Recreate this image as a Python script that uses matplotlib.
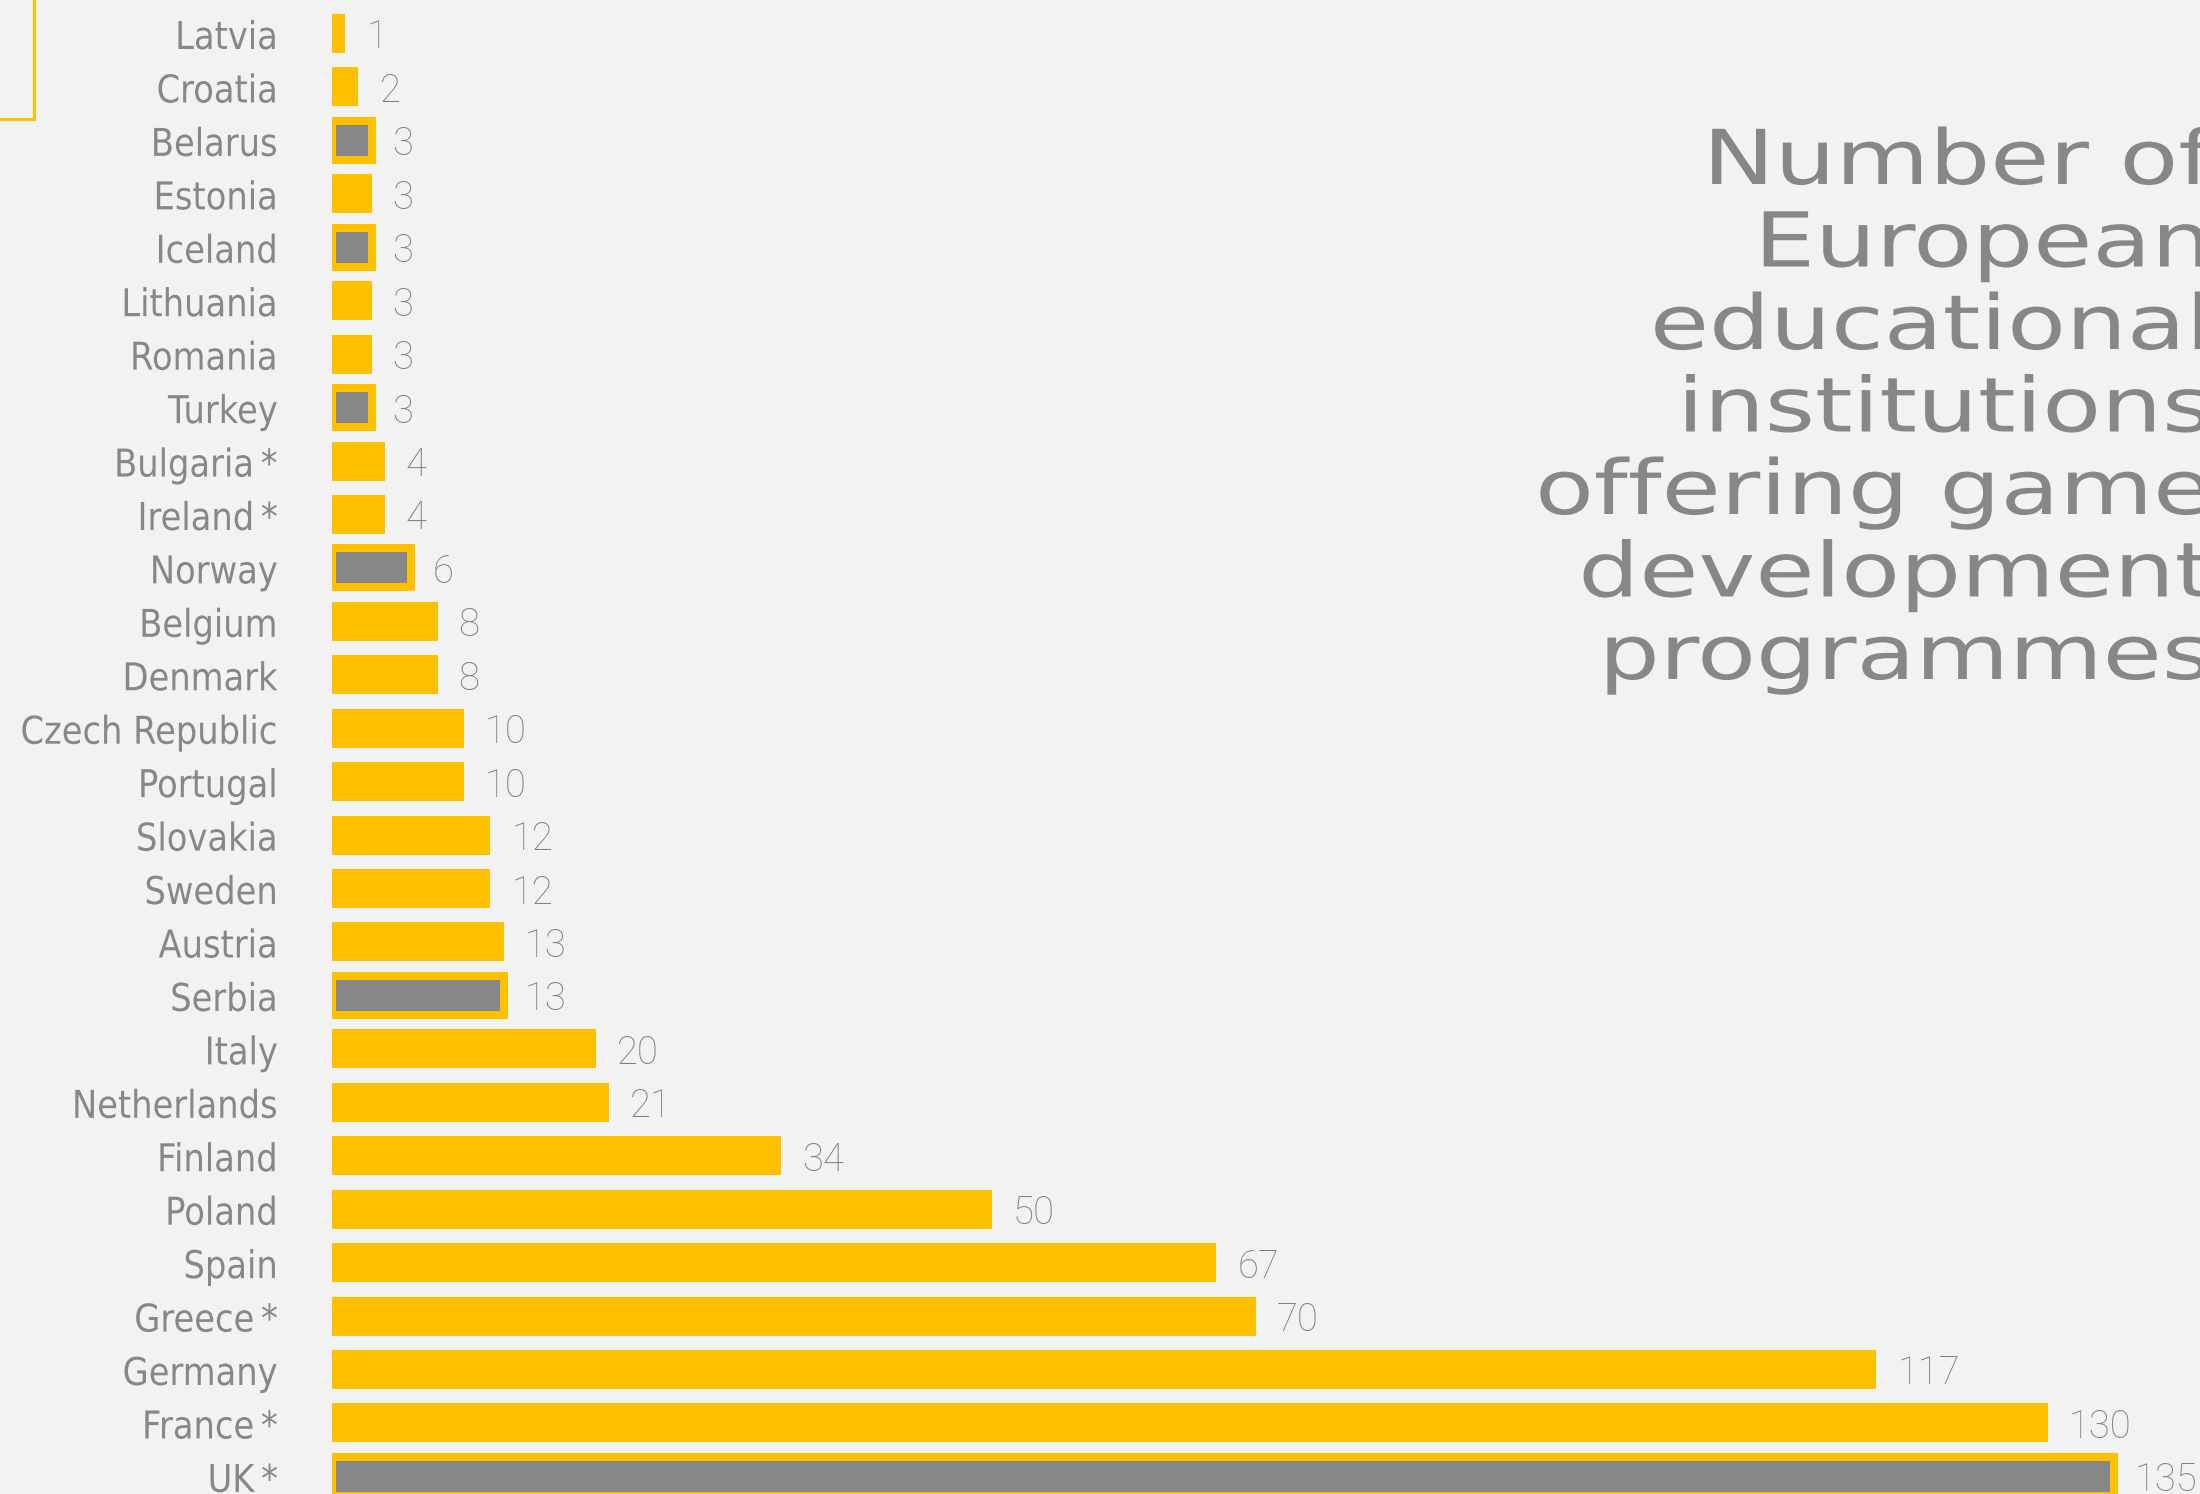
import matplotlib
matplotlib.use("Agg")
import matplotlib.pyplot as plt
from matplotlib import patheffects
from matplotlib.transforms import Affine2D, ScaledTranslation, blended_transform_factory
from matplotlib.lines import Line2D

# Programmes per country, listed top to bottom
countries = ["Latvia", "Croatia", "Belarus", "Estonia", "Iceland", "Lithuania",
             "Romania", "Turkey", "Bulgaria\u2009*", "Ireland\u2009*", "Norway",
             "Belgium", "Denmark", "Czech Republic", "Portugal", "Slovakia",
             "Sweden", "Austria", "Serbia", "Italy", "Netherlands", "Finland",
             "Poland", "Spain", "Greece\u2009*", "Germany", "France\u2009*",
             "UK\u2009*"]
programmes = [1, 2, 3, 3, 3, 3, 3, 3, 4, 4, 6, 8, 8, 10, 10, 12, 12, 13, 13,
              20, 21, 34, 50, 67, 70, 117, 130, 135]
# Countries outside the EU, drawn with a grey core
non_eu = ["Belarus", "Iceland", "Turkey", "Norway", "Serbia", "UK\u2009*"]

title_lines = ["Number of", "European", "educational", "institutions",
               "offering game", "development", "programmes"]

YELLOW = "#FFC000"
GREY_BAR = "#878787"
TEXT = "#878787"
VALUE_TEXT = "#808080"
BG = "#F2F2F2"

W, H, DPI = 2200, 1494, 100


class StretchX(patheffects.AbstractPathEffect):
    """Scale glyph outlines horizontally about a fixed display x."""

    def __init__(self, sx, anchor_px=None):
        super().__init__()
        self.sx = sx
        self.anchor_px = anchor_px

    def draw_path(self, renderer, gc, tpath, affine, rgbFace=None):
        x0 = affine.get_matrix()[0, 2] if self.anchor_px is None else self.anchor_px
        t = affine + Affine2D().translate(-x0, 0).scale(self.sx, 1).translate(x0, 0)
        renderer.draw_path(gc, tpath, t, rgbFace)


fig = plt.figure(figsize=(W / DPI, H / DPI), dpi=DPI, facecolor=BG)

left_px = 332
px_per_unit = 13.2
pitch = 53.44
ax = fig.add_axes([left_px / W, 0, (W - left_px) / W, 1])
ax.set_facecolor(BG)
ax.set_axis_off()
ax.set_xlim(0, (W - left_px) / px_per_unit)
ax.set_ylim((H - 33.5) / pitch, -33.5 / pitch)

ypos = list(range(len(countries)))
bar_h = 39 / pitch
for y, name, v in zip(ypos, countries, programmes):
    if name in non_eu:
        ax.barh(y, v, height=bar_h, color=GREY_BAR, edgecolor=YELLOW,
                linewidth=8 * 72 / DPI, zorder=2)
    else:
        ax.barh(y, v, height=bar_h, color=YELLOW, linewidth=0, zorder=2)

# country names, right-aligned just left of the bars
label_x_px = 278
label_tr = blended_transform_factory(fig.transFigure, ax.transData)
for y, name in zip(ypos, countries):
    ax.text(label_x_px / W, y + 15.5 / pitch, name, transform=label_tr,
            ha="right", va="baseline", fontsize=27.6, color=TEXT,
            family="DejaVu Sans",
            path_effects=[StretchX(0.88, label_x_px)])

# value labels after each bar
val_off = ScaledTranslation(21 / DPI, 0, fig.dpi_scale_trans)
for y, v in zip(ypos, programmes):
    ax.text(v, y + 15 / pitch, str(v), transform=ax.transData + val_off,
            ha="left", va="baseline", fontsize=27.5, color=VALUE_TEXT,
            family=["Roboto", "Lato", "DejaVu Sans"], fontweight="light")

# title block, right-aligned and running off the right edge
title_right_px = 2212
for i, line in enumerate(title_lines):
    base_px = 184 + 82.5 * i
    fig.text(title_right_px / W, 1 - base_px / H, line, ha="right",
             va="baseline", fontsize=54.5, color=TEXT, family="DejaVu Sans",
             path_effects=[StretchX(1.27, title_right_px)])

# corner of the frame at the top left
fig.add_artist(Line2D([34 / W, 34 / W], [1, 1 - 119 / H], color=YELLOW,
                      linewidth=2.2, transform=fig.transFigure))
fig.add_artist(Line2D([0, 34 / W], [1 - 119 / H, 1 - 119 / H], color=YELLOW,
                      linewidth=2.2, transform=fig.transFigure))

fig.savefig("out.png", dpi=DPI, facecolor=BG)
